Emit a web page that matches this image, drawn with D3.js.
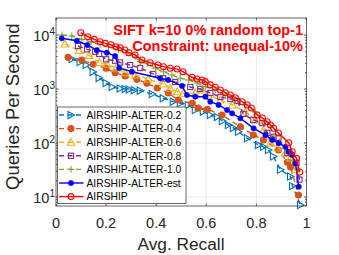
<!DOCTYPE html>
<html>
<head>
<meta charset="utf-8">
<script src="https://cdn.jsdelivr.net/npm/d3@7/dist/d3.min.js"></script>
<style>
  body { margin: 0; background: #fff; }
  svg { display: block; font-family: 'Liberation Sans', Arial, sans-serif; }
</style>
</head>
<body>
<div id="chart"></div>
<script>
// Data (recall, queries per second)
const seriesNames = ['AIRSHIP-ALTER-0.2', 'AIRSHIP-ALTER-0.4', 'AIRSHIP-ALTER-0.6',
    'AIRSHIP-ALTER-0.8', 'AIRSHIP-ALTER-1.0', 'AIRSHIP-ALTER-est', 'AIRSHIP'];

const alter02Recall = [0.064, 0.096, 0.12, 0.148, 0.172, 0.2, 0.224, 0.256, 0.276, 0.292, 0.312, 0.336,
    0.384, 0.428, 0.468, 0.496, 0.528, 0.556, 0.588, 0.616, 0.644, 0.664, 0.688, 0.708, 0.728,
    0.764, 0.808, 0.828, 0.848, 0.868, 0.896, 0.936, 0.944, 0.976];
const alter02Qps = [3590, 3160, 2780, 2070, 1600, 1290, 1090, 1020, 1000, 980, 950, 930,
    807, 673, 582, 543, 506, 408, 380, 330, 303, 255, 215, 190, 162,
    122, 92, 85, 74, 56, 32, 24, 16, 7.1];

const alter04Recall = [0.048, 0.103, 0.149, 0.2, 0.236, 0.276, 0.323, 0.363, 0.404, 0.448, 0.488,
    0.544, 0.568, 0.604, 0.663, 0.736, 0.788, 0.828, 0.888, 0.924, 0.936, 0.968];
const alter04Qps = [3860, 3440, 2860, 2420, 2000, 1740, 1510, 1280, 1045, 843, 625,
    543, 445, 421, 330, 200, 141, 114, 74, 44, 36, 10.9];

const alter06Recall = [0.036, 0.092, 0.132, 0.173, 0.204, 0.24, 0.276, 0.316, 0.368, 0.428, 0.456,
    0.484, 0.508, 0.556, 0.584, 0.608, 0.656, 0.704, 0.756, 0.796, 0.828, 0.856, 0.884, 0.916,
    0.936, 0.956];
const alter06Qps = [6810, 5160, 4170, 3100, 2900, 2450, 2000, 1815, 1530, 1240, 1030,
    891, 832, 843, 958, 774, 625, 506, 375, 267, 174, 100, 81, 65,
    53, 32];

const alter08Recall = [0.088, 0.124, 0.156, 0.172, 0.2, 0.236, 0.256, 0.296, 0.336, 0.388, 0.428,
    0.476, 0.536, 0.576, 0.616, 0.656, 0.696, 0.724, 0.748, 0.788, 0.824, 0.844, 0.868, 0.888,
    0.924, 0.96, 0.972];
const alter08Qps = [6250, 5430, 4910, 4450, 3550, 3340, 3100, 2780, 2450, 1900, 1580,
    1350, 1090, 1000, 843, 711, 653, 600, 345, 267, 234, 153, 129, 124,
    65, 43, 21];

const alter10Recall = [0.024, 0.063, 0.103, 0.14, 0.176, 0.209, 0.249, 0.283, 0.316, 0.336, 0.363,
    0.396, 0.429, 0.463, 0.496, 0.529, 0.563, 0.596, 0.636, 0.676, 0.716, 0.756, 0.796, 0.836,
    0.876, 0.916, 0.944, 0.964];
const alter10Qps = [10000, 9580, 8310, 7410, 6670, 6070, 5270, 4700, 3960, 3210, 2990,
    2420, 2090, 1815, 1580, 1470, 1280, 1100, 958, 774, 625, 506, 375, 245,
    141, 81, 48, 32];

const estRecall = [0.023, 0.083, 0.125, 0.163, 0.203, 0.236, 0.252, 0.303, 0.416, 0.448, 0.503,
    0.523, 0.556, 0.596, 0.616, 0.649, 0.683, 0.703, 0.736, 0.789, 0.836, 0.863, 0.889, 0.916,
    0.929, 0.943, 0.956, 0.969];
const estQps = [8700, 7830, 6530, 5270, 4700, 4080, 2450, 2090, 1580, 1470, 1140,
    774, 720, 720, 582, 506, 408, 355, 287, 187, 141, 114, 99, 85,
    69, 60, 42, 15.5];

const airshipRecall = [0.099, 0.127, 0.153, 0.176, 0.197, 0.219, 0.24, 0.256, 0.275, 0.291, 0.316,
    0.343, 0.376, 0.407, 0.429, 0.456, 0.483, 0.507, 0.543, 0.563, 0.583, 0.596, 0.616, 0.636,
    0.656, 0.676, 0.696, 0.716, 0.743, 0.763, 0.78, 0.803, 0.824, 0.843, 0.856, 0.869, 0.888,
    0.929, 0.943, 0.96, 0.973];
const airshipQps = [11000, 9300, 8300, 7500, 7000, 6600, 6070, 5820, 5270, 4700, 4270,
    3440, 3070, 2780, 2590, 2420, 2340, 2090, 1650, 1530, 1470, 1370, 1190, 1075,
    958, 853, 774, 690, 582, 506, 445, 330, 290, 248, 215, 187, 153,
    101, 69, 52, 29];

const xTicks = [0, 0.2, 0.4, 0.6, 0.8, 1];
const xTickLabels = ['0', '0.2', '0.4', '0.6', '0.8', '1'];
const yTicks = [10, 100, 1000, 10000];
const yTickExponents = ['1', '2', '3', '4'];
const titleLines = ['SIFT k=10 0% random top-1', 'Constraint: unequal-10%'];

const recallSets = [alter02Recall, alter04Recall, alter06Recall, alter08Recall, alter10Recall, estRecall, airshipRecall];
const qpsSets = [alter02Qps, alter04Qps, alter06Qps, alter08Qps, alter10Qps, estQps, airshipQps];

// Styling per series (MATLAB default palette)
const styles = [
    { color: '#0072BD', dash: '5,3.5', marker: 'triRight', fill: false },
    { color: '#D95319', dash: '5,3.5', marker: 'circle', fill: true },
    { color: '#EDB120', dash: '5,3.5', marker: 'triUp', fill: false },
    { color: '#7E2F8E', dash: '5,3.5', marker: 'square', fill: false },
    { color: '#77AC30', dash: '5,3.5', marker: 'plus', fill: false },
    { color: '#0000FF', dash: null, marker: 'dot', fill: true },
    { color: '#FF0000', dash: null, marker: 'circle', fill: false }
];

const W = 339, H = 255;
const plot = { left: 56, right: 306.5, top: 18, bottom: 206 };

const svg = d3.select('#chart').append('svg')
    .attr('width', W)
    .attr('height', H);

const x = d3.scaleLinear().domain([0, 1]).range([plot.left, plot.right]);
const y = d3.scaleLog().domain([6.81, 20650]).range([plot.bottom, plot.top]);

// Grid lines
svg.append('g').selectAll('line.vg')
    .data(xTicks.slice(1, -1))
    .enter().append('line')
    .attr('x1', d => x(d)).attr('x2', d => x(d))
    .attr('y1', plot.top).attr('y2', plot.bottom)
    .attr('stroke', '#e3e3e3').attr('stroke-width', 0.7);

svg.append('g').selectAll('line.hg')
    .data(yTicks)
    .enter().append('line')
    .attr('x1', plot.left).attr('x2', plot.right)
    .attr('y1', d => y(d)).attr('y2', d => y(d))
    .attr('stroke', '#e3e3e3').attr('stroke-width', 0.7);

// Marker drawing
function drawMarker(g, type, cx, cy, color, fill) {
    if (type === 'circle') {
        g.append('circle').attr('cx', cx).attr('cy', cy).attr('r', 3)
            .attr('fill', fill ? color : 'none').attr('stroke', color).attr('stroke-width', 1.1);
    } else if (type === 'dot') {
        g.append('circle').attr('cx', cx).attr('cy', cy).attr('r', 2.6)
            .attr('fill', color).attr('stroke', color).attr('stroke-width', 0.6);
    } else if (type === 'triRight') {
        g.append('path')
            .attr('d', `M${cx - 3},${cy - 3.6}L${cx + 3.6},${cy}L${cx - 3},${cy + 3.6}Z`)
            .attr('fill', 'none').attr('stroke', color).attr('stroke-width', 1.1);
    } else if (type === 'triUp') {
        g.append('path')
            .attr('d', `M${cx},${cy - 3.8}L${cx + 3.7},${cy + 3}L${cx - 3.7},${cy + 3}Z`)
            .attr('fill', 'none').attr('stroke', color).attr('stroke-width', 1.1);
    } else if (type === 'square') {
        g.append('rect').attr('x', cx - 2.6).attr('y', cy - 2.6).attr('width', 5.2).attr('height', 5.2)
            .attr('fill', 'none').attr('stroke', color).attr('stroke-width', 1.1);
    } else if (type === 'plus') {
        g.append('path')
            .attr('d', `M${cx - 3.4},${cy}H${cx + 3.4}M${cx},${cy - 3.4}V${cy + 3.4}`)
            .attr('stroke', color).attr('stroke-width', 1.1);
    }
}

// Series
const line = d3.line().x(d => x(d[0])).y(d => y(d[1]));
const plotArea = svg.append('g');

recallSets.forEach((rec, i) => {
    const pts = rec.map((r, j) => [r, qpsSets[i][j]]);
    const st = styles[i];
    const g = plotArea.append('g');
    g.append('path')
        .datum(pts)
        .attr('d', line)
        .attr('fill', 'none')
        .attr('stroke', st.color)
        .attr('stroke-width', 1.4)
        .attr('stroke-dasharray', st.dash);
    pts.forEach(p => drawMarker(g, st.marker, x(p[0]), y(p[1]), st.color, st.fill));
});

// Axes box with inward ticks (MATLAB style)
const axisColor = '#262626';
const axes = svg.append('g');

axes.append('rect')
    .attr('x', plot.left).attr('y', plot.top)
    .attr('width', plot.right - plot.left).attr('height', plot.bottom - plot.top)
    .attr('fill', 'none').attr('stroke', axisColor).attr('stroke-width', 0.7);

xTicks.forEach(t => {
    axes.append('line').attr('x1', x(t)).attr('x2', x(t))
        .attr('y1', plot.bottom).attr('y2', plot.bottom - 2.5)
        .attr('stroke', axisColor).attr('stroke-width', 0.7);
    axes.append('line').attr('x1', x(t)).attr('x2', x(t))
        .attr('y1', plot.top).attr('y2', plot.top + 2.5)
        .attr('stroke', axisColor).attr('stroke-width', 0.7);
});

const yAllTicks = y.ticks().filter(v => y(v) >= plot.top - 0.1 && y(v) <= plot.bottom + 0.1);
yAllTicks.forEach(v => {
    const major = yTicks.includes(v);
    const len = major ? 2.5 : 1.5;
    axes.append('line').attr('x1', plot.left).attr('x2', plot.left + len)
        .attr('y1', y(v)).attr('y2', y(v))
        .attr('stroke', axisColor).attr('stroke-width', 0.7);
    axes.append('line').attr('x1', plot.right).attr('x2', plot.right - len)
        .attr('y1', y(v)).attr('y2', y(v))
        .attr('stroke', axisColor).attr('stroke-width', 0.7);
});

// Tick labels
svg.append('g').selectAll('text')
    .data(xTicks)
    .enter().append('text')
    .attr('x', d => x(d))
    .attr('y', 227.5)
    .attr('text-anchor', 'middle')
    .style('font-size', '14.5px')
    .style('fill', axisColor)
    .text((d, i) => xTickLabels[i]);

yTicks.forEach((v, i) => {
    const t = svg.append('text')
        .attr('x', 55)
        .attr('y', y(v) + 6.2)
        .attr('text-anchor', 'end')
        .style('font-size', '14.5px')
        .style('fill', axisColor);
    t.append('tspan').text('10');
    t.append('tspan')
        .attr('dy', -6.5)
        .style('font-size', '10px')
        .text(yTickExponents[i]);
});

// Axis labels
svg.append('text')
    .attr('x', 181)
    .attr('y', 249.5)
    .attr('text-anchor', 'middle')
    .style('font-size', '17.3px')
    .style('fill', axisColor)
    .text('Avg. Recall');

svg.append('text')
    .attr('transform', 'translate(18.5,106.7) rotate(-90)')
    .attr('text-anchor', 'middle')
    .style('font-size', '18.5px')
    .style('fill', axisColor)
    .text('Queries Per Second');

// Title inside the plot
titleLines.forEach((s, i) => {
    svg.append('text')
        .attr('x', 303)
        .attr('y', 34.5 + i * 16)
        .attr('text-anchor', 'end')
        .style('font-size', '14.5px')
        .style('font-weight', 'bold')
        .style('fill', '#FF0000')
        .text(s);
});

// Legend
const legend = svg.append('g');
legend.append('rect')
    .attr('x', 57.5).attr('y', 107)
    .attr('width', 128.5).attr('height', 96.5)
    .attr('fill', '#fff')
    .attr('stroke', axisColor).attr('stroke-width', 0.7);

seriesNames.forEach((name, i) => {
    const ly = 115 + i * 13.6;
    const st = styles[i];
    legend.append('line')
        .attr('x1', 59).attr('x2', 83.5)
        .attr('y1', ly).attr('y2', ly)
        .attr('stroke', st.color).attr('stroke-width', 1.4)
        .attr('stroke-dasharray', st.dash);
    drawMarker(legend, st.marker, 71, ly, st.color, st.fill);
    legend.append('text')
        .attr('x', 86.5)
        .attr('y', ly + 3.7)
        .style('font-size', '10.3px')
        .style('fill', '#000')
        .text(name);
});
</script>
</body>
</html>
